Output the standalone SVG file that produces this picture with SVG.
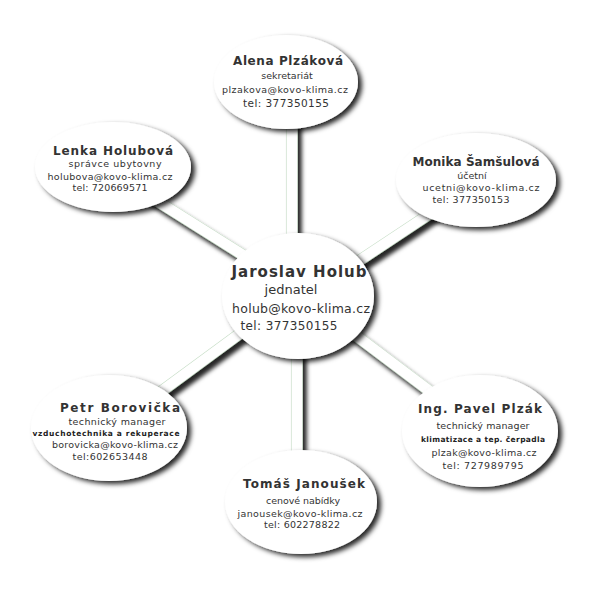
<svg xmlns="http://www.w3.org/2000/svg" width="600" height="600" viewBox="0 0 600 600">
<defs>
<filter id="sh" x="-20%" y="-20%" width="150%" height="150%">
<feGaussianBlur in="SourceAlpha" stdDeviation="2.5"/>
<feOffset dx="4" dy="3" result="b"/>
<feFlood flood-color="#000" flood-opacity="0.85"/>
<feComposite in2="b" operator="in"/>
<feMerge><feMergeNode/><feMergeNode in="SourceGraphic"/></feMerge>
</filter>
<filter id="lsh" x="-20%" y="-20%" width="150%" height="150%">
<feGaussianBlur in="SourceAlpha" stdDeviation="2"/>
<feOffset dx="4" dy="5" result="b"/>
<feFlood flood-color="#000" flood-opacity="0.85"/>
<feComposite in2="b" operator="in"/>
<feMerge><feMergeNode/><feMergeNode in="SourceGraphic"/></feMerge>
</filter>
<g id="lines">
<line x1="292" y1="110" x2="292" y2="260"/>
<line x1="297" y1="330" x2="297" y2="480"/>
<line x1="130" y1="184" x2="270" y2="272"/>
<line x1="440" y1="207" x2="330" y2="280"/>
<line x1="140" y1="407" x2="265" y2="315"/>
<line x1="330" y1="316" x2="460" y2="414"/>
</g>
</defs>
<style>
.bub{fill:#fff;filter:url(#sh)}
.edge{stroke:#c4dcc4;stroke-width:11.5;fill:none}
.con{stroke:#fff;stroke-width:10.5;fill:none}
text{font-family:"DejaVu Sans",Verdana,sans-serif;fill:#333;text-anchor:middle}
.nm{font-weight:bold;font-size:12px}
.t{font-size:9.5px}
.tel{font-size:10.5px}
.sb{font-weight:bold;font-size:7.5px;fill:#222}
</style>
<rect width="600" height="600" fill="#fff"/>
<g id="connectors" filter="url(#lsh)">
<use href="#lines" class="edge"/>
<use href="#lines" class="con"/>
</g>
<g id="node-alena">
<ellipse class="bub" cx="286" cy="82" rx="72" ry="47"/>
<text class="nm" x="288" y="65" textLength="110">Alena Plzáková</text>
<text class="t" x="287" y="79">sekretariát</text>
<text class="t" x="285" y="93" textLength="126">plzakova@kovo-klima.cz</text>
<text class="tel" x="286" y="107" textLength="86">tel: 377350155</text>
</g>
<g id="node-lenka">
<ellipse class="bub" cx="113" cy="167" rx="78" ry="45"/>
<text class="nm" x="113" y="155" textLength="120">Lenka Holubová</text>
<text class="t" x="115" y="167" textLength="93">správce ubytovny</text>
<text class="t" x="110" y="180" textLength="125">holubova@kovo-klima.cz</text>
<text class="t" x="110" y="191" textLength="75">tel: 720669571</text>
</g>
<g id="node-monika">
<ellipse class="bub" cx="476" cy="180" rx="80" ry="47"/>
<text class="nm" x="476" y="166" textLength="127">Monika Šamšulová</text>
<text class="t" x="472" y="179">účetní</text>
<text class="t" x="481" y="191" textLength="117">ucetni@kovo-klima.cz</text>
<text class="t" x="471" y="203" textLength="77">tel: 377350153</text>
</g>
<g id="node-jaroslav">
<ellipse class="bub" cx="298" cy="296" rx="76" ry="63"/>
<text class="nm" x="299" y="277" style="font-size:15px" textLength="135">Jaroslav Holub</text>
<text x="291" y="294" style="font-size:13px">jednatel</text>
<text x="301" y="313" style="font-size:12.5px" textLength="138">holub@kovo-klima.cz</text>
<text x="289" y="330" style="font-size:12px" textLength="97">tel: 377350155</text>
</g>
<g id="node-petr">
<ellipse class="bub" cx="109" cy="428" rx="78" ry="53"/>
<text class="nm" x="120" y="412" textLength="120">Petr Borovička</text>
<text class="t" x="117" y="425" textLength="97">technický manager</text>
<text class="sb" x="106" y="436" textLength="147">vzduchotechnika a rekuperace</text>
<text class="t" x="115" y="448" textLength="126">borovicka@kovo-klima.cz</text>
<text class="t" x="110" y="460" textLength="75">tel:602653448</text>
</g>
<g id="node-pavel">
<ellipse class="bub" cx="480" cy="431" rx="78" ry="56"/>
<text class="nm" x="480" y="413" textLength="124">Ing. Pavel Plzák</text>
<text class="t" x="483" y="429" textLength="93">technický manager</text>
<text class="sb" x="483" y="442" textLength="124">klimatizace a tep. čerpadla</text>
<text class="t" x="484" y="456" textLength="105">plzak@kovo-klima.cz</text>
<text class="t" x="483" y="469" textLength="81">tel: 727989795</text>
</g>
<g id="node-tomas">
<ellipse class="bub" cx="301" cy="502" rx="76" ry="52"/>
<text class="nm" x="304" y="488" textLength="122">Tomáš Janoušek</text>
<text class="t" x="303" y="504" textLength="74">cenové nabídky</text>
<text class="t" x="300" y="517" textLength="125">janousek@kovo-klima.cz</text>
<text class="t" x="302" y="528" textLength="76">tel: 602278822</text>
</g>
</svg>
